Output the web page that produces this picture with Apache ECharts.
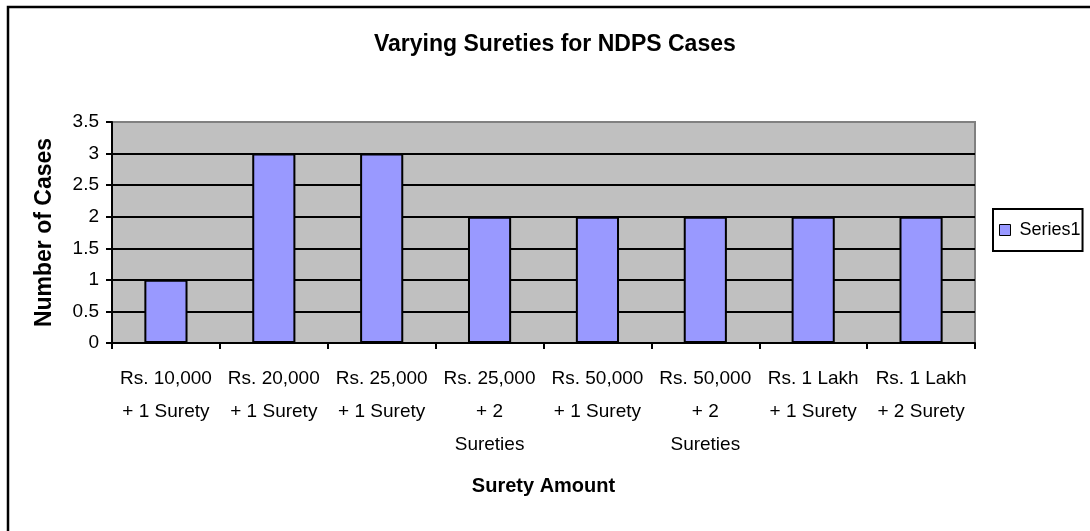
<!DOCTYPE html>
<html>
<head>
<meta charset="utf-8">
<script src="https://cdn.jsdelivr.net/npm/echarts@6/dist/echarts.min.js"></script>
<style>
  html, body { margin: 0; padding: 0; background: #fff; }
  #chart { width: 1090px; height: 531px; }
</style>
</head>
<body>
<div id="chart"></div>
<script>
const categories = [
  "Rs. 10,000\n+ 1 Surety",
  "Rs. 20,000\n+ 1 Surety",
  "Rs. 25,000\n+ 1 Surety",
  "Rs. 25,000\n+ 2\nSureties",
  "Rs. 50,000\n+ 1 Surety",
  "Rs. 50,000\n+ 2\nSureties",
  "Rs. 1 Lakh\n+ 1 Surety",
  "Rs. 1 Lakh\n+ 2 Surety",
];
const series1 = [1, 3, 3, 2, 2, 2, 2, 2];

const font = 'Arial, "Liberation Sans", sans-serif';

const chart = echarts.init(document.getElementById("chart"));
const option = {
  animation: false,
  textStyle: { fontFamily: font, color: "#000" },
  title: {
    text: "Varying Sureties for NDPS Cases",
    left: 369,
    top: 28,
    textStyle: { fontFamily: font, fontSize: 23, fontWeight: "bold", color: "#000" },
  },
  legend: {
    left: 993,
    top: 209,
    orient: "vertical",
    padding: [12, 2, 12, 6],
    borderColor: "#000",
    borderWidth: 2,
    itemWidth: 11,
    itemHeight: 11,
    icon: "rect",
    itemStyle: { borderColor: "#000", borderWidth: 1 },
    textStyle: { fontFamily: font, fontSize: 18, color: "#000", padding: [0, 0, 0, 4] },
    data: ["Series1"],
  },
  grid: {
    left: 112,
    right: 115,
    top: 122,
    bottom: 188,
    show: true,
    backgroundColor: "#C0C0C0",
    borderColor: "#808080",
    borderWidth: 2,
  },
  xAxis: {
    type: "category",
    data: categories,
    name: "Surety Amount",
    nameLocation: "middle",
    nameGap: 133,
    nameTextStyle: { fontFamily: font, fontSize: 20, fontWeight: "bold", color: "#000", verticalAlign: "top" },
    axisLine: { lineStyle: { color: "#000", width: 2 } },
    axisTick: { show: true, length: 6, lineStyle: { color: "#000", width: 2 } },
    axisLabel: { fontFamily: font, fontSize: 19, color: "#000", lineHeight: 33, margin: 19, interval: 0 },
  },
  yAxis: {
    type: "value",
    min: 0,
    max: 3.5,
    interval: 0.5,
    name: "Number of Cases",
    nameLocation: "middle",
    nameGap: 56,
    nameTextStyle: { fontFamily: font, fontSize: 23, fontWeight: "bold", color: "#000" },
    axisLine: { show: true, lineStyle: { color: "#000", width: 2 } },
    axisTick: { show: true, length: 6, lineStyle: { color: "#000", width: 2 } },
    axisLabel: { fontFamily: font, fontSize: 19, color: "#000", margin: 13 },
    splitLine: { show: true, showMaxLine: false, lineStyle: { color: "#000", width: 2 } },
  },
  series: [
    {
      name: "Series1",
      type: "bar",
      data: series1,
      barWidth: "40%",
      itemStyle: { color: "#9999FF", borderColor: "#000", borderWidth: 2 },
    },
  ],
  graphic: [
    {
      type: "rect",
      shape: { x: 8, y: 7, width: 1200, height: 700 },
      style: { fill: "none", stroke: "#000", lineWidth: 2.5 },
      silent: true,
    },
  ],
};
chart.setOption(option);
</script>
</body>
</html>
